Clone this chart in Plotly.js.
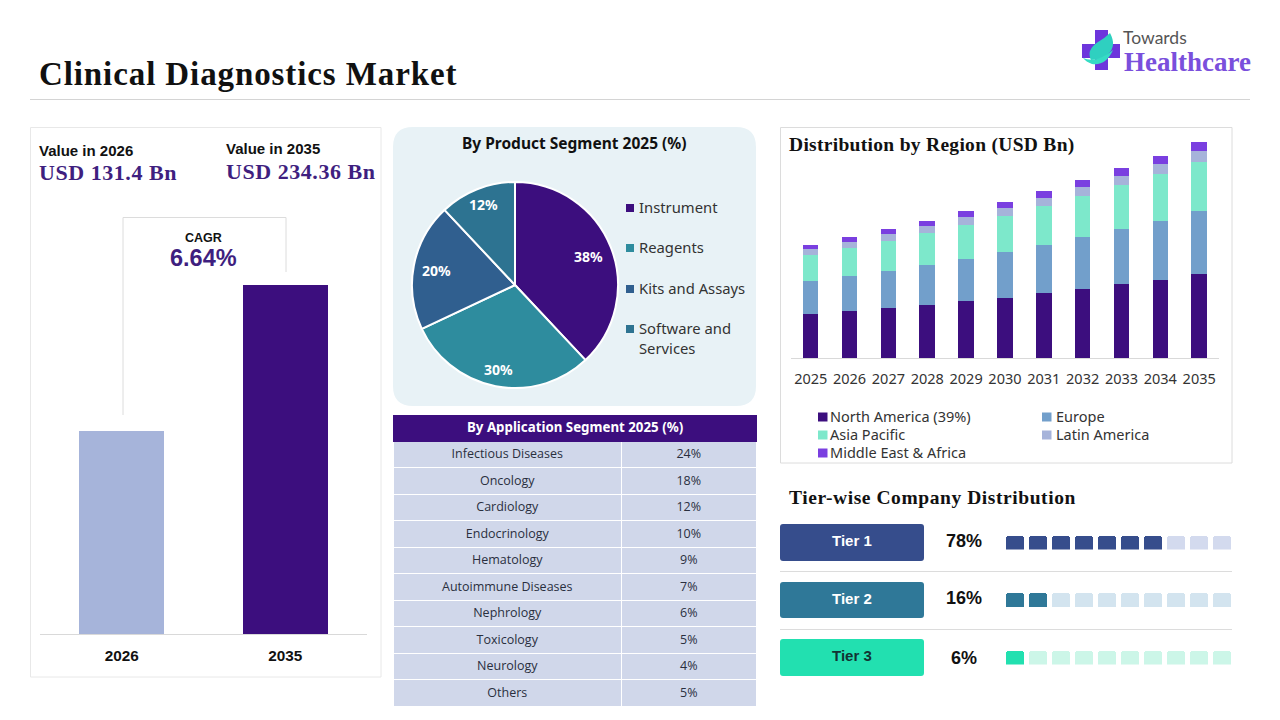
<!DOCTYPE html>
<html><head><meta charset="utf-8">
<script src="https://cdn.plot.ly/plotly-3.0.1.min.js"></script>
<style>html,body{margin:0;padding:0;background:#fff}#c{width:1280px;height:720px}</style>
</head><body><div id="c"></div>
<script>
// ---- data ----
const valueYears = ['2026','2035'];
const valueBars = [136, 234.36];
const regionYears = ['2025','2026','2027','2028','2029','2030','2031','2032','2033','2034','2035'];
const northAmerica = [47.7,51.0,54.3,57.5,61.8,65.1,70.5,74.9,80.3,84.6,91.1];
const europe = [35.8,38.0,40.1,43.4,45.6,49.9,52.1,56.4,59.7,64.0,68.4];
const asiaPacific = [28.6,30.4,32.9,35.1,36.9,39.1,42.3,44.5,47.7,51.0,53.5];
const latinAmerica = [6.1,6.5,7.2,7.2,8.7,8.7,8.7,9.8,9.8,10.9,11.6];
const middleEastAfrica = [4.3,5.4,5.4,5.4,6.5,6.5,7.6,7.6,8.7,8.7,9.8];
const regionNames = ['North America (39%)','Europe','Asia Pacific','Latin America','Middle East & Africa'];
const productLabels = ['Instrument','Reagents','Kits and Assays','Software and<br>Services'];
const productValues = [38,30,20,12];
const appLabels = ['Infectious Diseases','Oncology','Cardiology','Endocrinology','Hematology','Autoimmune Diseases','Nephrology','Toxicology','Neurology','Others'];
const appValues = ['24%','18%','12%','10%','9%','7%','6%','5%','4%','5%'];
const tierNames = ['Tier 1','Tier 2','Tier 3'];
const tierShares = ['78%','16%','6%'];
const tierFilled = [7,2,1];
const tierSlots = [1,2,3,4,5,6,7,8,9,10];

// ---- styling ----
const PURPLE='#3c0e7e', SERIF='"Liberation Serif", serif', SANS='"Liberation Sans", sans-serif', NOTO='"Noto Sans", sans-serif', OPEN='"Open Sans", sans-serif';
const regionColors=['#3c0e7e','#729fcb','#7de8cb','#a6b3da','#7a3fe0'];
const productColors=['#3c0e7e','#2e8c9e','#305f8f','#2d7391'];
const tierColors=['#364d8c','#2f7898','#22e0b0'], tierLight=['#d3daee','#d3e4ef','#ccf6e8'], tierText=['#ffffff','#ffffff','#123333'];

const X=p=>p/1280, Y=p=>1-p/720;
const dx=(a,b)=>[X(a),X(b)], dy=(top,bot)=>[Y(bot),Y(top)];
const shapes=[], annotations=[], spacing={};
const rect=(x0,y0,x1,y1,fill,line)=>shapes.push({type:'rect',xref:'paper',yref:'paper',x0:X(x0),x1:X(x1),y0:Y(y0),y1:Y(y1),fillcolor:fill||'rgba(0,0,0,0)',line:{color:line||'rgba(0,0,0,0)',width:line?1:0},layer:'below'});
const seg=(x0,y0,x1,y1,c)=>shapes.push({type:'line',xref:'paper',yref:'paper',x0:X(x0),x1:X(x1),y0:Y(y0),y1:Y(y1),line:{color:c||'#dcdcdc',width:1},layer:'below'});
const path=(cmds,fill)=>shapes.push({type:'path',xref:'paper',yref:'paper',layer:'below',fillcolor:fill,line:{width:0},
  path:cmds.map(c=>typeof c==='string'?c:X(c[0]).toFixed(5)+','+Y(c[1]).toFixed(5)).join(' ')});
const rrect=(x0,y0,x1,y1,r,fill)=>path(['M',[x0+r,y0],'L',[x1-r,y0],'Q',[x1,y0],[x1,y0+r],'L',[x1,y1-r],'Q',[x1,y1],[x1-r,y1],'L',[x0+r,y1],'Q',[x0,y1],[x0,y1-r],'L',[x0,y0+r],'Q',[x0,y0],[x0+r,y0],'Z'],fill);
const txt=(s,x,y,size,color,family,anchor,bold,ls)=>{
  if(ls) spacing[annotations.length]=ls;
  annotations.push({xref:'paper',yref:'paper',x:X(x),y:Y(family===NOTO?y-1:y),text:bold?'<b>'+s+'</b>':s,showarrow:false,xanchor:anchor||'left',yanchor:'middle',align:anchor||'left',font:{size,color,family},borderpad:0,borderwidth:0});
};

// header
txt('Clinical Diagnostics Market',39,74,33,'#111',SERIF,'left',true,0.9);
seg(30,99.5,1250,99.5,'#d4d4d4');
// logo
path(['M',[1095,30],'L',[1108,30],'L',[1108,44],'L',[1120,44],'L',[1120,58],'L',[1108,58],'L',[1108,70],'L',[1095,70],'L',[1095,58],'L',[1082,58],'L',[1082,44],'L',[1095,44],'Z'],'#6d35dc');
path(['M',[1110,33],'Q',[1117,46],[1108,54],'Q',[1101,60],[1091,60],'Q',[1086,50],[1098,42],'Q',[1105,38],[1110,33],'Z'],'#2fd0c0');
path(['M',[1083,58],'Q',[1096,64],[1113,50],'Q',[1106,66],[1092,64],'Q',[1086,62],[1083,58],'Z'],'#35dcc4');
txt('Towards',1123,37,17.5,'#555555','Lato, sans-serif');
txt('Healthcare',1123.5,62,27,'#7a4fdc',SERIF,'left',true);

// left panel
rect(30.5,127.5,381,677,'#fff','#e8e8e8');
txt('Value in 2026',39,150,15,'#111',SANS,'left',true);
txt('Value in 2035',226,149,15,'#111',SANS,'left',true);
txt('USD 131.4 Bn',39,172,22,'#3f1f7f',SERIF,'left',true,0.55);
txt('USD 234.36 Bn',226,171,22,'#3f1f7f',SERIF,'left',true,0.55);
seg(123,217.5,286,217.5); seg(123,217.5,123,415); seg(286,217.5,286,272);
txt('CAGR',203,238,12.5,'#111',SANS,'center',true);
txt('6.64%',203,258,23.5,'#3f1f7f',SANS,'center',true);

// pie panel
rrect(393,127,756,406,20,'#e8f2f6');
txt('By Product Segment 2025 (%)',574.5,144,15.5,'#111',NOTO,'center',true);
const pieTextPos=[[588,257],[498,371],[436,271],[483,205]];
productValues.forEach((v,i)=>txt(v+'%',pieTextPos[i][0],pieTextPos[i][1],14,'#fff',NOTO,'center',true));
const pieLegendY=[208,248,289,329];
productLabels.forEach((l,i)=>{
  rect(626,pieLegendY[i]-4,634,pieLegendY[i]+4,productColors[i]);
  l.split('<br>').forEach((part,j)=>txt(part,639,pieLegendY[i]+j*20,14.8,'#333',NOTO));
});

// table header caption
txt('By Application Segment 2025 (%)',575,428,13.3,'#fff',NOTO,'center',true);

// region panel
rect(780.5,127.5,1232,463,'#fff','#dcdcdc');
txt('Distribution by Region (USD Bn)',789,145,19.5,'#111',SERIF,'left',true,0.3);
const regLegend=[[818,417],[1042,417],[818,435],[1042,435],[818,453]];
regionNames.forEach((n,i)=>{
  const [x,y]=regLegend[i];
  rect(x,y-4.5,x+9.5,y+4.5,regionColors[i]);
  txt(n,i%2&&i<4?x+14:x+12,y,14.5,'#333',NOTO);
});

// tiers
txt('Tier-wise Company Distribution',789,497.5,19.5,'#111',SERIF,'left',true,0.57);
const tierBox=[[524,561],[582,618],[639,676]], tierTxtY=[541,598,658], tierLabelY=[540.5,598,655.5];
tierNames.forEach((n,i)=>{
  rrect(780,tierBox[i][0],924,tierBox[i][1],3,tierColors[i]);
  txt(n,852,tierLabelY[i],15,tierText[i],SANS,'center',true);
  txt(tierShares[i],964,tierTxtY[i],18,'#111',SANS,'center',true);
});
seg(780,571.5,1232,571.5,'#dcdcdc'); seg(780,629.5,1232,629.5,'#dcdcdc');

// ---- traces ----
const traces=[];
traces.push({type:'bar',x:valueYears,y:valueBars,xaxis:'x',yaxis:'y',width:0.52,marker:{color:['#a6b4da',PURPLE]},hoverinfo:'skip'});
const regionSeries=[northAmerica,europe,asiaPacific,latinAmerica,middleEastAfrica];
regionSeries.forEach((s,i)=>traces.push({type:'bar',name:regionNames[i],x:regionYears,y:s,xaxis:'x2',yaxis:'y2',marker:{color:regionColors[i]},hoverinfo:'skip'}));
traces.push({type:'pie',labels:productLabels,values:productValues,sort:false,direction:'clockwise',rotation:0,textinfo:'none',
  marker:{colors:productColors,line:{color:'#ffffff',width:2}},domain:{x:dx(412,618),y:dy(182,388)},hoverinfo:'skip',showlegend:false});
traces.push({type:'table',domain:{x:dx(393,756),y:dy(415,707)},columnwidth:[228.5,134.5],
  header:{values:['',''],height:26,fill:{color:PURPLE},line:{color:PURPLE,width:1}},
  cells:{values:[appLabels,appValues],height:26.5,align:'center',fill:{color:'#d0d7ea'},line:{color:'#ffffff',width:1},font:{family:OPEN,size:12.5,color:'#2a2f3e'}}});
const tierRows=[[536,549.5],[593,607],[651,664.5]];
tierNames.forEach((n,i)=>traces.push({type:'bar',x:tierSlots,y:tierSlots.map(()=>1),xaxis:'x3',yaxis:i?'y'+(3+i):'y3',width:0.78,
  marker:{color:tierSlots.map(s=>s<=tierFilled[i]?tierColors[i]:tierLight[i]),cornerradius:3},hoverinfo:'skip'}));

const hidden={visible:false,fixedrange:true};
const layout={width:1280,height:720,margin:{l:0,r:0,t:0,b:0},paper_bgcolor:'#fff',plot_bgcolor:'rgba(0,0,0,0)',showlegend:false,barmode:'stack',shapes,annotations,
  xaxis:{domain:dx(40,367),anchor:'y',type:'category',showgrid:false,showline:true,linecolor:'#d9d9d9',linewidth:1,ticks:'outside',ticklen:8,tickcolor:'rgba(0,0,0,0)',tickfont:{family:SANS,size:15.3,color:'#111',weight:700},fixedrange:true,tickangle:0},
  yaxis:{domain:dy(285,634),anchor:'x',range:[0,234.36],...hidden},
  xaxis2:{domain:dx(791.3,1218.6),anchor:'y2',type:'category',showgrid:false,showline:true,linecolor:'#d9d9d9',linewidth:1,ticks:'outside',ticklen:8,tickcolor:'rgba(0,0,0,0)',tickfont:{family:NOTO,size:14.5,color:'#333'},fixedrange:true,tickangle:0},
  yaxis2:{domain:dy(136.8,358),anchor:'x2',range:[0,240],...hidden},
  xaxis3:{domain:dx(1003.5,1233.5),anchor:'y3',range:[0.5,10.5],...hidden},
  yaxis3:{domain:dy(tierRows[0][0],tierRows[0][1]),anchor:'x3',range:[0,1],...hidden},
  yaxis4:{domain:dy(tierRows[1][0],tierRows[1][1]),anchor:'x3',range:[0,1],...hidden},
  yaxis5:{domain:dy(tierRows[2][0],tierRows[2][1]),anchor:'x3',range:[0,1],...hidden},
  bargap:0.6
};
Plotly.newPlot('c',traces,layout,{displayModeBar:false}).then(()=>{
  document.querySelectorAll('.annotation').forEach(a=>{
    const ls=spacing[a.getAttribute('data-index')];
    if(ls){const t=a.querySelector('text'); if(t) t.style.letterSpacing=ls+'px';}
  });
});
</script></body></html>
